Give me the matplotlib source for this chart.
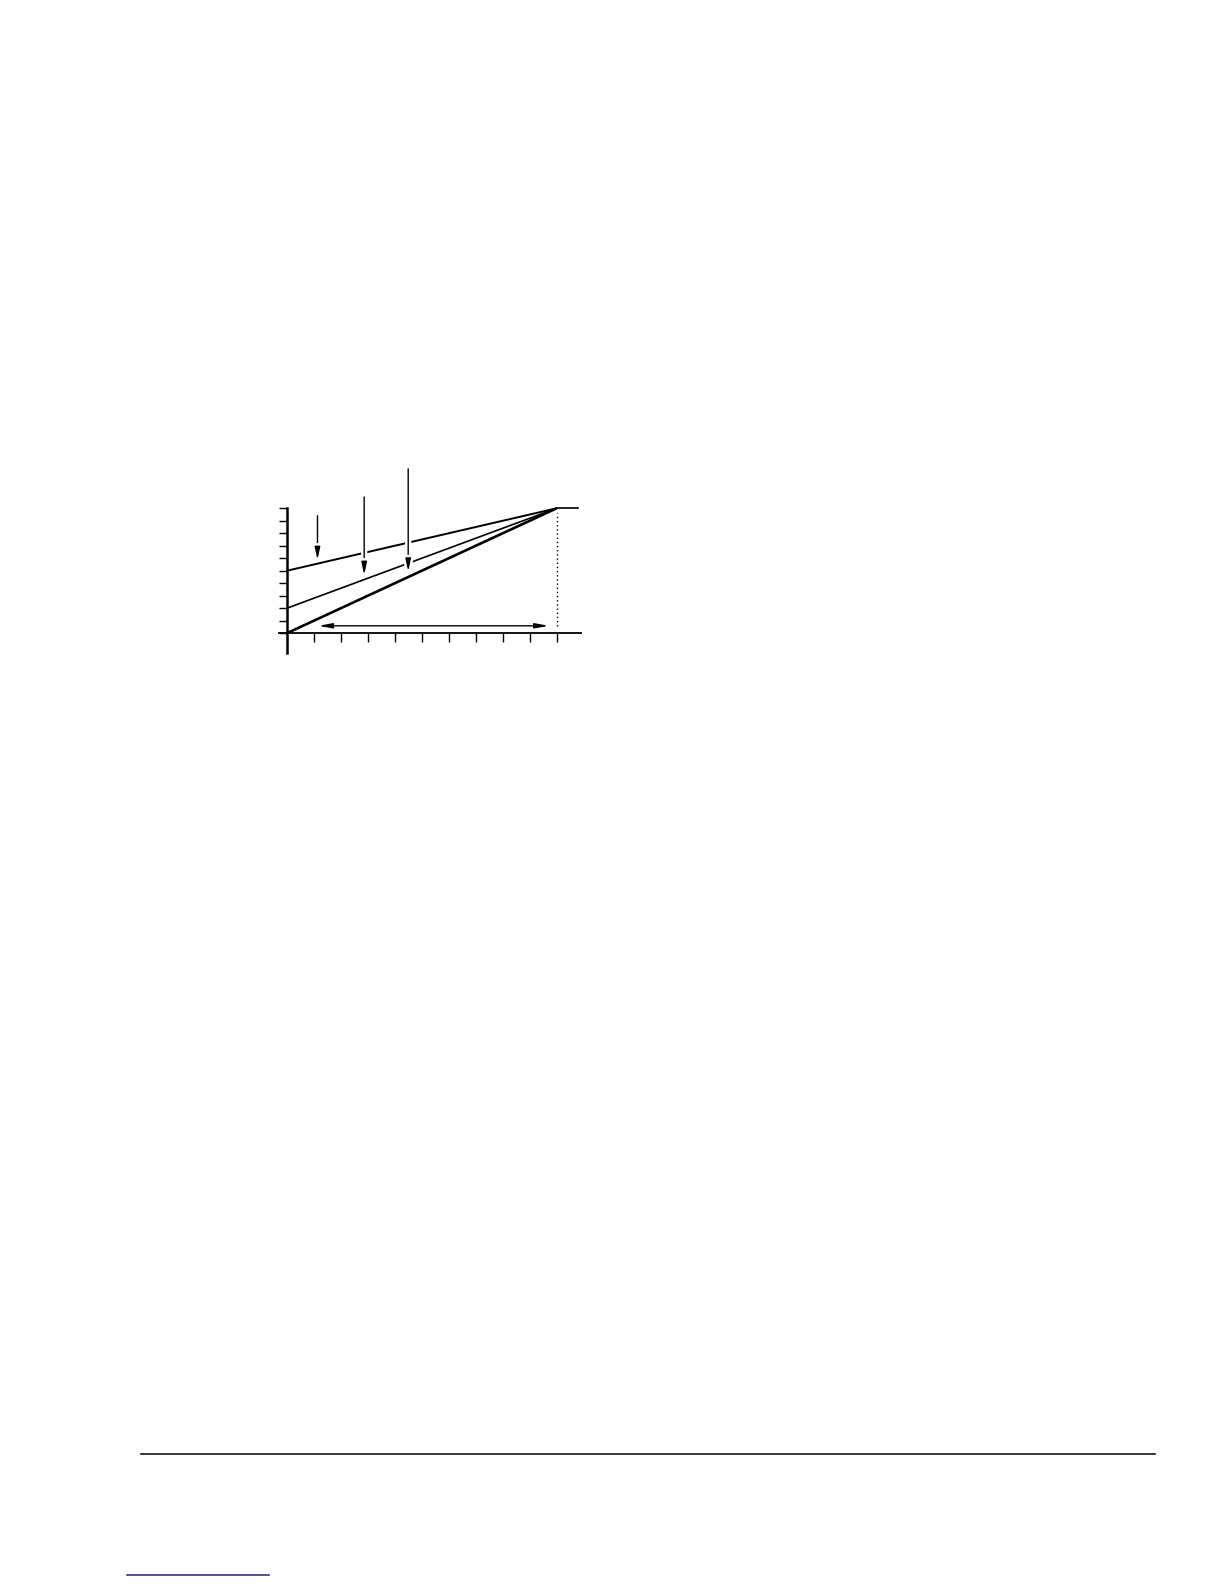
import numpy as np
import matplotlib.pyplot as plt
import matplotlib.patheffects as pe

# Three lines that start at different heights and meet at one point
line_start_y = [5, 2, 0]
line_widths = [1.4, 1.2, 1.9]
meet_x, meet_y = 10, 10
stub_end_x = 10.77

# Vertical pointer arrows: x position, top of shaft, tip
arrow_x = [1.14, 2.87, 4.5]
arrow_top = [9.4, 10.9, 13.15]
arrow_tip = [5.86, 4.66, 4.93]

# Double-headed span arrow and dotted drop line
span_y = 0.6
span_x = [1.18, 9.7]
drop_y = [0.6, 9.6]

x_ticks = np.arange(1, 11)
y_ticks = np.arange(0, 11)

fig = plt.figure(figsize=(12.24, 15.84), dpi=100)
ax = fig.add_axes([0.2254, 0.5844, 0.2559, 0.1263])
ax.set_xlim(-0.4, 11.2)
ax.set_ylim(-2, 14)

# axes like the drawing: left spine runs below zero, bottom spine at zero
for side in ['top', 'right']:
    ax.spines[side].set_visible(False)
ax.spines['left'].set_position(('data', 0))
ax.spines['bottom'].set_position(('data', 0))
ax.spines['left'].set_bounds(-1.6, 10)
ax.spines['bottom'].set_bounds(-0.3, 10.9)
ax.spines['left'].set_linewidth(1.8)
ax.spines['bottom'].set_linewidth(1.3)
ax.set_xticks(x_ticks)
ax.set_yticks(y_ticks)
ax.set_xticklabels([])
ax.set_yticklabels([])
ax.tick_params(axis='x', direction='out', length=6.5, width=1.0)
ax.tick_params(axis='y', direction='out', length=5.8, width=1.0)

for y0, lw in zip(line_start_y, line_widths):
    ax.plot([0, meet_x], [y0, meet_y], color='black', linewidth=lw,
            solid_capstyle='butt', zorder=2)
ax.plot([meet_x, stub_end_x], [meet_y, meet_y], color='black', linewidth=1.2, zorder=2)

ax.plot([meet_x, meet_x], drop_y, color='black', linewidth=1.0,
        linestyle=(0, (1, 2)), zorder=2)

# pointer arrows, with a white halo that cuts the lines they cross
for xa, yt, yb in zip(arrow_x, arrow_top, arrow_tip):
    ax.annotate('', xy=(xa, yb), xytext=(xa, yt),
                arrowprops=dict(arrowstyle='-|>,head_length=0.75,head_width=0.16',
                                mutation_scale=10, color='black', linewidth=1.0,
                                shrinkA=0, shrinkB=0,
                                path_effects=[pe.Stroke(linewidth=4.5, foreground='white'),
                                              pe.Normal()]),
                zorder=4)

ax.annotate('', xy=(span_x[1], span_y), xytext=(span_x[0], span_y),
            arrowprops=dict(arrowstyle='<|-|>,head_length=0.8,head_width=0.15',
                            mutation_scale=10, color='black', linewidth=1.0,
                            shrinkA=0, shrinkB=0),
            zorder=3)

# page footer rule and link underline
fig.add_artist(plt.Line2D([141 / 1224, 1155 / 1224], [1 - 1454 / 1584, 1 - 1454 / 1584],
                          color='black', linewidth=1.1))
fig.add_artist(plt.Line2D([127 / 1224, 269 / 1224], [1 - 1575 / 1584, 1 - 1575 / 1584],
                          color='#1c1c80', linewidth=1.1))

plt.savefig('out.png', dpi=100)
